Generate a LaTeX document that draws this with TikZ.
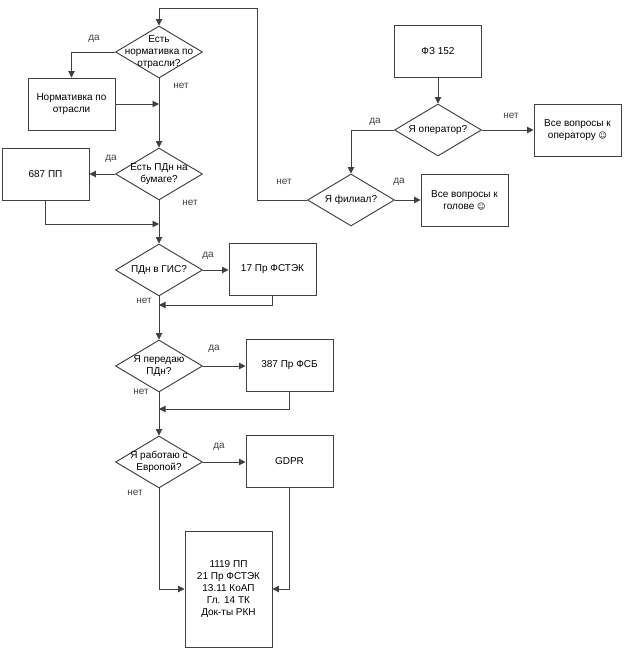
\documentclass[tikz,border=0pt]{standalone}
\usepackage{fontspec}
\setmainfont{Liberation Sans}
\newfontfamily\symbfont{DejaVu Sans}
\usetikzlibrary{arrows.meta,shapes.geometric}
\newcommand{\smiley}{{\symbfont\fontsize{8}{10}\selectfont ☺}}
\tikzset{
  box/.style={draw,rectangle,minimum width=87pt,minimum height=52pt,inner sep=0pt,align=center},
  dia/.style={draw,diamond,minimum width=87pt,minimum height=52pt,inner sep=0pt},
  dlabel/.style={align=center,inner sep=0pt},
  ans/.style={inner sep=0pt,text=black!75},
  conn/.style={-{Triangle[length=6.5pt,width=6.5pt]}}
}
\begin{document}
\begin{tikzpicture}[x=1pt,y=-1pt,font=\fontsize{10}{12}\selectfont,line width=0.95pt,draw=black!75]
\useasboundingbox (0,0) rectangle (625,650);
% left column of questions
\node[dia,label={[dlabel]center:Есть\\нормативка по\\отрасли?}] (norm) at (159,52) {};
\node[dia,label={[dlabel]center:Есть ПДн на\\бумаге?}] (paper) at (159,174) {};
\node[dia,label={[dlabel]center:ПДн в ГИС?}] (gis) at (159,270) {};
\node[dia,label={[dlabel]center:Я передаю\\ПДн?}] (send) at (159,366) {};
\node[dia,label={[dlabel]center:Я работаю с\\Европой?}] (europe) at (159,462) {};
% boxes of the left column
\node[box] (normbox) at (71.5,104) {Нормативка по\\отрасли};
\node[box] (pp687) at (45.5,174) {687 ПП};
\node[box] (fstek) at (272.5,269) {17 Пр ФСТЭК};
\node[box] (fsb) at (289.5,365.5) {387 Пр ФСБ};
\node[box] (gdpr) at (289.5,461.5) {GDPR};
\node[box,minimum height=116pt] (docs) at (228.5,589) {1119 ПП\\21 Пр ФСТЭК\\13.11 КоАП\\Гл. 14 ТК\\Док-ты РКН};
% right part
\node[box] (law) at (438,51.5) {ФЗ 152};
\node[dia,label={[dlabel]center:Я оператор?}] (oper) at (438,130) {};
\node[box] (opbox) at (577.5,130) {Все вопросы к\\оператору \smiley};
\node[dia,label={[dlabel]center:Я филиал?}] (branch) at (351,200) {};
\node[box] (headbox) at (464.5,200) {Все вопросы к\\голове \smiley};
% points where lines join
\coordinate (joina) at (159,104);
\coordinate (joinb) at (159,224);
\coordinate (joinc) at (159,305);
\coordinate (joind) at (159,409);
\coordinate (topturn) at (257,8.5);
% connectors
\draw[conn] (law) -- (oper);
\draw[conn] (oper) -- (opbox);
\draw[conn] (oper) -| (branch);
\draw[conn] (branch) -- (headbox);
\draw[conn] (branch.west) -| (topturn) -| (norm.north);
\draw[conn] (norm.west) -| (normbox.north);
\draw[conn] (normbox.east) -- (joina);
\draw[conn] (norm) -- (paper);
\draw[conn] (paper) -- (pp687);
\draw[conn] (pp687.south) |- (joinb);
\draw[conn] (paper) -- (gis);
\draw[conn] (gis) -- (gis-|fstek.west);
\draw[conn] (fstek.south) |- (joinc);
\draw[conn] (gis) -- (send);
\draw[conn] (send) -- (send-|fsb.west);
\draw[conn] (fsb.south) |- (joind);
\draw[conn] (send) -- (europe);
\draw[conn] (europe) -- (europe-|gdpr.west);
\draw[conn] (europe.south) |- (docs.west);
\draw[conn] (gdpr.south) |- (docs.east);
% answers
\node[ans] (a1) at (94,39) {да};
\node[ans] (a2) at (181,86) {нет};
\node[ans] (a3) at (111,159) {да};
\node[ans] (a4) at (190,203) {нет};
\node[ans] (a5) at (284,182) {нет};
\node[ans] (a6) at (375,122) {да};
\node[ans] (a7) at (511,116) {нет};
\node[ans] (a8) at (399,182) {да};
\node[ans] (a9) at (208,256) {да};
\node[ans] (a10) at (144,301) {нет};
\node[ans] (a11) at (214,349) {да};
\node[ans] (a12) at (141,392) {нет};
\node[ans] (a13) at (219,447) {да};
\node[ans] (a14) at (135,493) {нет};
\end{tikzpicture}
\end{document}
